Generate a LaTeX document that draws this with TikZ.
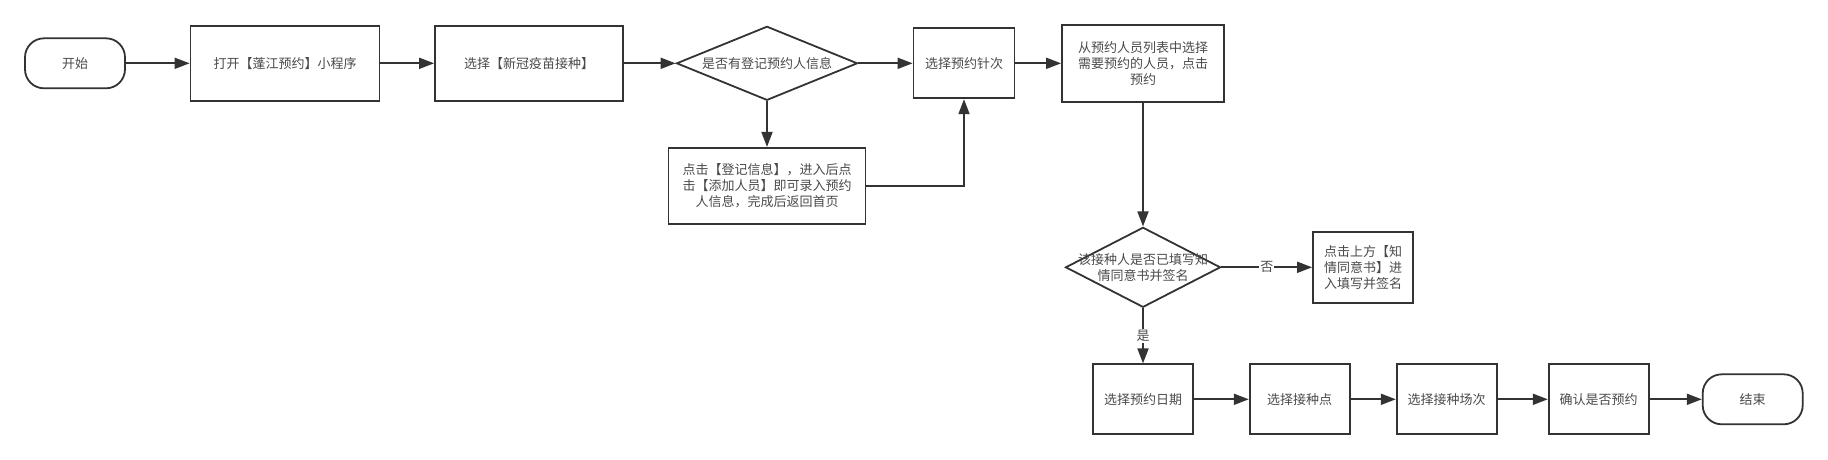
\documentclass[tikz,border=0pt]{standalone}
\usepackage{fontspec}
\setmainfont{Noto Sans CJK SC}
\usetikzlibrary{arrows.meta, positioning, shapes.geometric, quotes}
\definecolor{stroke}{HTML}{333333}
\definecolor{ink}{HTML}{4A4A4A}
\tikzstyle{every picture} = [x=1pt, y=1pt]
\tikzstyle{txt} = [text=ink, align=center, font=\fontsize{13pt}{16pt}\selectfont]
\tikzstyle{proc} = [rectangle, draw=stroke, line width=1.8pt, fill=white, txt, minimum width=100pt, minimum height=70pt]
\tikzstyle{term} = [proc, rounded corners=19pt, minimum height=50pt]
\tikzstyle{decision} = [diamond, draw=stroke, line width=1.8pt, fill=white, txt, inner sep=0pt, aspect=2.5]
\tikzstyle{flow} = [-{Triangle[length=15pt, width=11pt]}, draw=stroke, line width=1.8pt]
\tikzstyle{every edge quotes} = [txt, fill=white, inner sep=1pt]

\begin{document}
\begin{tikzpicture}
			\useasboundingbox (0,0) rectangle (1828,-459);
			\node (start) [term] at (75,-63.3) {开始};
			\node (open) [proc, minimum width=189pt, minimum height=75pt, right of=start, node distance=210pt] {打开【蓬江预约】小程序};
			\node (pick) [proc, minimum width=188pt, minimum height=75pt, right of=open, node distance=244pt] {选择【新冠疫苗接种】};
			\node (ask) [decision, minimum width=181pt, minimum height=74pt, right of=pick, node distance=238pt] {是否有登记预约人信息};
			\node (dose) [proc, minimum width=101pt, right of=ask, node distance=197pt] {选择预约针次};
			\node (choose) [proc, minimum width=162pt, minimum height=77pt, right of=dose, node distance=179pt] {从预约人员列表中选择\\需要预约的人员，点击\\预约};
			\node (reg) [proc, minimum width=197pt, minimum height=76pt, below of=ask, node distance=122.5pt] {点击【登记信息】，进入后点\\击【添加人员】即可录入预约\\人信息，完成后返回首页};
			\node (consent) [decision, minimum width=155pt, minimum height=80pt, below of=choose, node distance=204pt, label={[txt]center:该接种人是否已填写知\\情同意书并签名}] {};
			\node (sign) [proc, minimum height=71pt, right of=consent, node distance=220pt] {点击上方【知\\情同意书】进\\入填写并签名};
			\node (date) [proc, below of=consent, node distance=132pt] {选择预约日期};
			\node (site) [proc, right of=date, node distance=156.7pt] {选择接种点};
			\node (slot) [proc, right of=site, node distance=147pt] {选择接种场次};
			\node (confirm) [proc, right of=slot, node distance=152pt] {确认是否预约};
			\node (stop) [term, right of=confirm, node distance=154pt] {结束};
			\path (start) edge[flow] (open);
			\path (open) edge[flow] (pick);
			\path (pick) edge[flow] (ask);
			\path (ask) edge[flow] (dose);
			\path (dose) edge[flow] (choose);
			\path (ask) edge[flow] (reg);
			\draw[flow] (reg) -| (dose);
			\path (choose) edge[flow] (consent);
			\path (consent) edge[flow, "否"] (sign);
			\path (consent) edge[flow, "是"] (date);
			\path (date) edge[flow] (site);
			\path (site) edge[flow] (slot);
			\path (slot) edge[flow] (confirm);
			\path (confirm) edge[flow] (stop);
		\end{tikzpicture}
\end{document}
